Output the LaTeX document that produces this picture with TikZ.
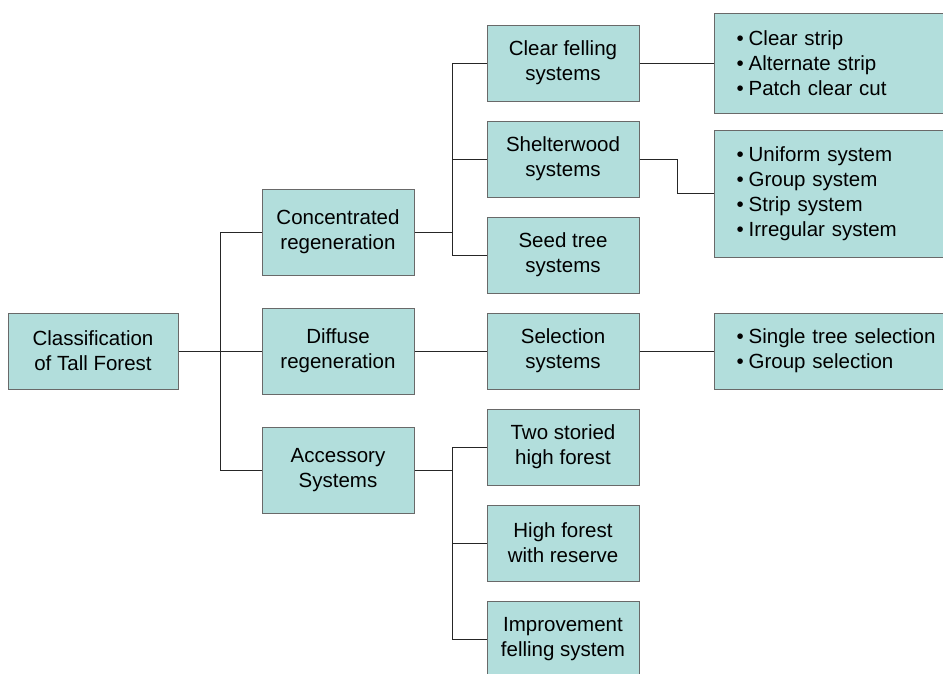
\documentclass[tikz,border=0pt]{standalone}
\usepackage{fontspec}
\setmainfont{Liberation Sans}
\definecolor{boxfill}{RGB}{178,222,220}
\definecolor{boxline}{RGB}{105,105,105}

\begin{document}
\begin{tikzpicture}[x=1pt,y=-1pt,
    box/.style={draw=boxline,fill=boxfill,line width=1pt,minimum width=152pt,
        minimum height=76pt,align=center,inner sep=0pt,
        font=\fontsize{20.5}{25}\selectfont},
    midbox/.style={box,minimum height=86pt},
    list/.style={box,align=left,text width=210pt,inner xsep=22pt,anchor=west},
    link/.style={draw=black!85,line width=1pt}]
    \useasboundingbox (0,0) rectangle (943,673);
    % root and first level
    \node[box,minimum width=170pt] (root) at (93,351) {Classification\\of Tall Forest};
    \node[midbox] (conc) at (338,232) {Concentrated\\regeneration};
    \node[midbox] (diff) at (338,351) {Diffuse\\regeneration};
    \node[midbox] (acc) at (338,470) {Accessory\\Systems};
    % second level
    \node[box] (clear) at (563,63) {Clear felling\\systems};
    \node[box] (shel) at (563,159) {Shelterwood\\systems};
    \node[box] (seed) at (563,255) {Seed tree\\systems};
    \node[box] (sel) at (563,351) {Selection\\systems};
    \node[box] (two) at (563,447) {Two storied\\high forest};
    \node[box] (high) at (563,543) {High forest\\with reserve};
    \node[box] (impr) at (563,639) {Improvement\\felling system};
    % lists
    \node[list,minimum height=100pt] (strip) at (714,63)
        {•\hspace{5pt}Clear strip\\•\hspace{5pt}Alternate strip\\•\hspace{5pt}Patch clear cut};
    \node[list,minimum height=127pt] (unif) at (714,193.5)
        {•\hspace{5pt}Uniform system\\•\hspace{5pt}Group system\\•\hspace{5pt}Strip system\\•\hspace{5pt}Irregular system};
    \node[list] (single) at (714,351)
        {•\hspace{5pt}Single tree selection\\•\hspace{5pt}Group selection};
    % joints
    \coordinate (j1) at (220,351);
    \coordinate (j2) at (452,232);
    \coordinate (j3) at (452,470);
    \draw[link] (root.east) -- (j1);
    \draw[link] (j1) |- (conc.west);
    \draw[link] (j1) |- (diff.west);
    \draw[link] (j1) |- (acc.west);
    \draw[link] (conc.east) -- (j2);
    \draw[link] (j2) |- (clear.west);
    \draw[link] (j2) |- (shel.west);
    \draw[link] (j2) |- (seed.west);
    \draw[link] (diff.east) -- (sel.west);
    \draw[link] (acc.east) -- (j3);
    \draw[link] (j3) |- (two.west);
    \draw[link] (j3) |- (high.west);
    \draw[link] (j3) |- (impr.west);
    \draw[link] (clear.east) -- (strip.west);
    \draw[link] (shel.east) -- ++(38,0) |- (unif.west);
    \draw[link] (sel.east) -- (single.west);
\end{tikzpicture}
\end{document}
